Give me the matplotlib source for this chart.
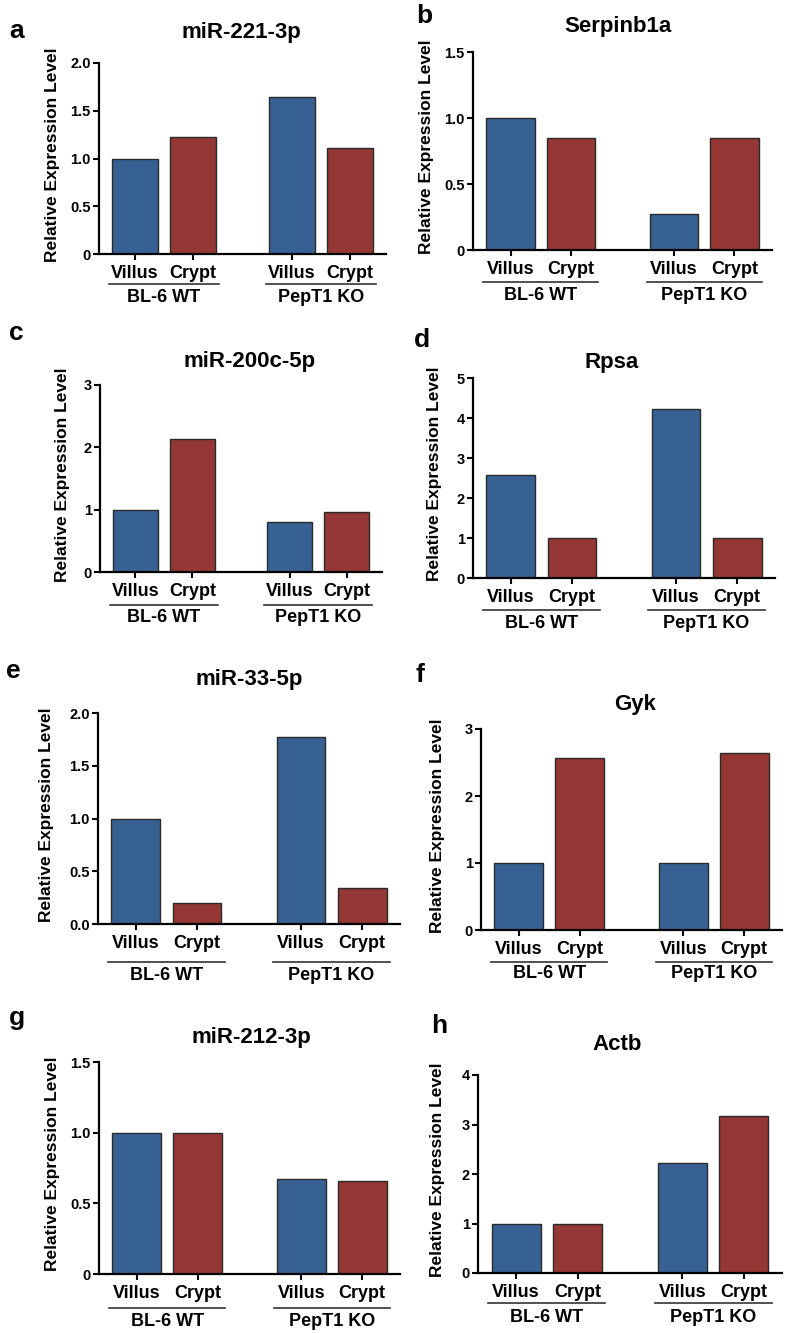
import matplotlib.pyplot as plt
from matplotlib.transforms import blended_transform_factory

plt.rcParams['font.family'] = ['Liberation Sans', 'DejaVu Sans']
plt.rcParams['font.weight'] = 'bold'

W, H = 787, 1333

letters = ["a", "b", "c", "d", "e", "f", "g", "h"]
genes = ["miR-221-3p", "Serpinb1a", "miR-200c-5p", "Rpsa",
         "miR-33-5p", "Gyk", "miR-212-3p", "Actb"]
samples = ["Villus", "Crypt", "Villus", "Crypt"]
groups = ["BL-6 WT", "PepT1 KO"]

villus_wt = [1.00, 1.00, 1.00, 2.58, 1.00, 1.00, 1.00, 1.00]
crypt_wt = [1.22, 0.85, 2.14, 1.00, 0.20, 2.57, 1.00, 0.98]
villus_ko = [1.64, 0.27, 0.81, 4.23, 1.77, 1.00, 0.67, 2.23]
crypt_ko = [1.11, 0.85, 0.97, 1.00, 0.34, 2.64, 0.66, 3.17]

yticks = [
    [0, 0.5, 1.0, 1.5, 2.0],
    [0, 0.5, 1.0, 1.5],
    [0, 1, 2, 3],
    [0, 1, 2, 3, 4, 5],
    [0, 0.5, 1.0, 1.5, 2.0],
    [0, 1, 2, 3],
    [0, 0.5, 1.0, 1.5],
    [0, 1, 2, 3, 4],
]
ytick_labels = [
    ["0", "0.5", "1.0", "1.5", "2.0"],
    ["0", "0.5", "1.0", "1.5"],
    ["0", "1", "2", "3"],
    ["0", "1", "2", "3", "4", "5"],
    ["0.0", "0.5", "1.0", "1.5", "2.0"],
    ["0", "1", "2", "3"],
    ["0", "0.5", "1.0", "1.5"],
    ["0", "1", "2", "3", "4"],
]

# layout in pixels: axes box (left, right, top, bottom), title (x, baseline),
# letter (x, baseline), ylabel right-edge offset, underline offset, group label offset
boxes = [(99, 386, 63, 254), (473, 772, 52, 250), (100, 382, 385, 572), (473, 775, 378, 578),
         (98, 400, 713, 924), (481, 782, 729, 930), (99, 400, 1062, 1274), (478, 782, 1075, 1273)]
title_pos = [(241, 38), (618, 32), (250, 367), (612, 368),
             (249, 685), (635, 710), (251, 1043), (617, 1050)]
letter_pos = [(9, 38), (416, 23), (9, 340), (414, 347),
              (6, 678), (416, 682), (9, 1025), (431, 1033)]
ylab_off = [39, 39, 30, 31, 44, 36, 39, 33]
line_off = [30, 32, 33, 32, 38, 32, 34, 30]
glab_off = [43, 45, 45, 46, 52, 43, 47, 45]

blue = "#386193"
red = "#953735"
pos = [0, 1, 2.7, 3.7]

fig = plt.figure(figsize=(W / 100, H / 100), dpi=100)

for i in range(8):
    l, r, t, b = boxes[i]
    w_px, h_px = r - l, b - t
    ax = fig.add_axes([l / W, 1 - b / H, w_px / W, h_px / H])
    vals = [villus_wt[i], crypt_wt[i], villus_ko[i], crypt_ko[i]]
    ax.bar(pos, vals, width=0.8, color=[blue, red, blue, red],
           edgecolor="#2a2a2a", linewidth=1.0, zorder=2)
    ax.set_xlim(-0.62, 4.32)
    ax.set_ylim(0, yticks[i][-1])
    ax.set_yticks(yticks[i], ytick_labels[i])
    ax.set_xticks(pos, samples)
    for s in ["top", "right"]:
        ax.spines[s].set_visible(False)
    for s in ["left", "bottom"]:
        ax.spines[s].set_linewidth(1.6)
    ax.tick_params(axis="y", length=4, width=1.5, pad=2, labelsize=10.5)
    ax.tick_params(axis="x", length=4, width=1.5, pad=4, labelsize=13)
    ax.set_ylabel("Relative Expression Level", fontsize=12.5, fontweight="bold")
    ax.yaxis.set_label_coords(-ylab_off[i] / w_px, 0.52)

    tr = blended_transform_factory(ax.transData, ax.transAxes)
    for g, (x0, x1) in enumerate([(pos[0], pos[1]), (pos[2], pos[3])]):
        yl = -line_off[i] / h_px
        ax.plot([x0 - 0.45, x1 + 0.45], [yl, yl], color="#333333", lw=1.2,
                transform=tr, clip_on=False)
        ax.text((x0 + x1) / 2, -glab_off[i] / h_px, groups[g], transform=tr,
                ha="center", va="center", fontsize=13, fontweight="bold")

    tx, ty = title_pos[i]
    fig.text(tx / W, 1 - ty / H, genes[i], ha="center", va="baseline",
             fontsize=16, fontweight="bold")
    lx, ly = letter_pos[i]
    fig.text(lx / W, 1 - ly / H, letters[i], ha="left", va="baseline",
             fontsize=19, fontweight="bold")

fig.savefig("out.png", dpi=100)
